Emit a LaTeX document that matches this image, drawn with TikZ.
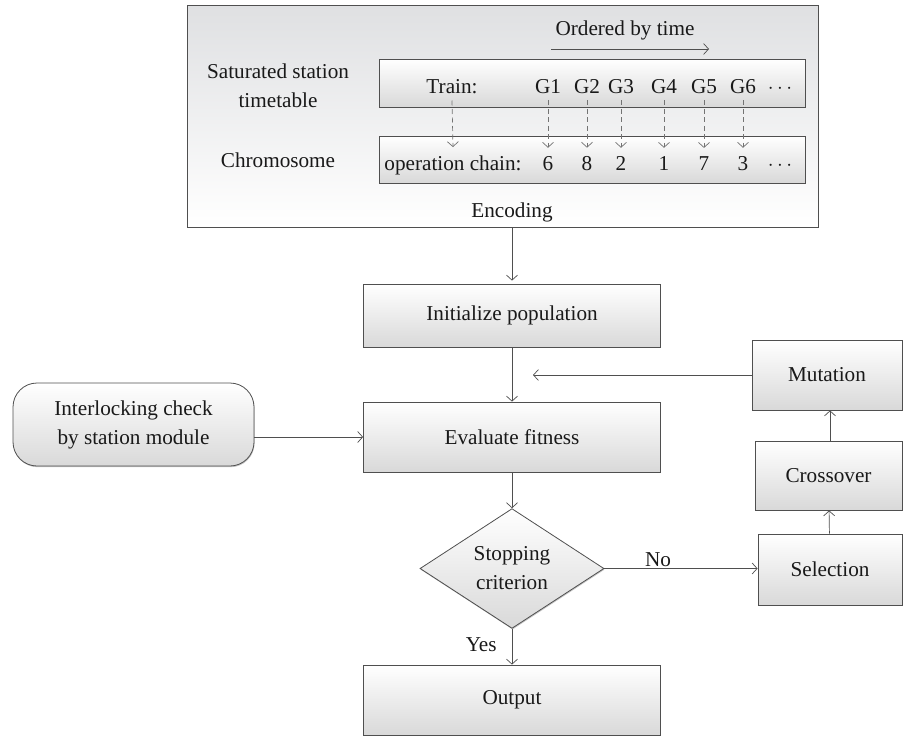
\documentclass[tikz,border=0pt]{standalone}
\usepackage{fontspec}
\setmainfont{Liberation Serif}
\usetikzlibrary{arrows.meta,shapes.geometric,shadows}
\definecolor{edge}{HTML}{4F4F4F}
\definecolor{panel}{HTML}{DFE0E2}
\newcommand\ffont{\fontsize{21.2}{29}\selectfont}
\tikzset{
  box/.style={draw=edge, line width=0.8pt, top color=white, bottom color=black!15,
    font=\ffont, text=black!90, align=center, inner sep=0pt},
  shd/.style={drop shadow={shadow xshift=0.6pt, shadow yshift=-1.2pt, opacity=0.45}},
  lbl/.style={font=\ffont, text=black!90, align=center, inner sep=1pt},
  arr/.style={draw=edge, line width=0.7pt, -{Straight Barb[length=5pt,width=11pt]}},
  darr/.style={arr, draw=black!55, dash pattern=on 5pt off 3.5pt},
}

\begin{document}
\begin{tikzpicture}[x=1pt,y=-1pt]
  \useasboundingbox (0,0) rectangle (904,737);
  % encoding panel
  \node[box, top color=panel, bottom color=white, minimum width=631pt, minimum height=222pt] (enc) at (502.5,116) {};
  \node[lbl] (ord) at (625,30) {Ordered by time};
  \coordinate (o1) at (551,49);
  \coordinate (o2) at (709,49);
  \draw[arr] (o1) -- (o2);
  \node[lbl] (sat) at (278,86) {Saturated station\\timetable};
  \node[lbl] (chr) at (278,160) {Chromosome};
  \node[box, shd, minimum width=426pt, minimum height=48pt] (tt) at (592,83) {};
  \node[box, shd, minimum width=426pt, minimum height=47pt] (ch) at (592,159.5) {};
  \node[lbl, anchor=base] (train) at (452,93) {Train:};
  \node[lbl, anchor=base] (chain) at (453,170) {operation chain:};
  \draw[darr] ([yshift=-6pt]train.south) -- ([yshift=7pt]chain.north);
  \foreach \x/\g/\n [count=\i] in {548/G1/6, 587/G2/8, 621/G3/2, 664/G4/1, 704/G5/7, 743/G6/3}{
    \node[lbl, anchor=base] (g\i) at (\x,93) {\g};
    \node[lbl, anchor=base] (n\i) at (\x,170) {\n};
    \draw[darr] ([yshift=-6pt]g\i.south) -- ([yshift=7pt]n\i.north);
  }
  \node[lbl, anchor=base] (gdots) at (780,93) {$\cdots$};
  \node[lbl, anchor=base] (ndots) at (780,170) {$\cdots$};
  \node[lbl] (encl) at (512,212) {Encoding};

  % genetic algorithm loop
  \node[box, shd, minimum width=297pt, minimum height=63pt] (init) at (512,315.5) {Initialize population};
  \node[box, shd, minimum width=297pt, minimum height=70pt] (eval) at (512,437) {Evaluate fitness};
  \node[box, shd, shape=diamond, minimum width=184pt, minimum height=111pt] (stop) at (512,568.5) {Stopping\\criterion};
  \node[box, shd, minimum width=297pt, minimum height=70pt] (out) at (512,700) {Output};
  \node[box, shd, rounded corners=24pt, minimum width=241pt, minimum height=83pt] (inter) at (133.5,424.5) {Interlocking check\\by station module};
  \node[box, shd, minimum width=150pt, minimum height=70pt] (mut) at (827,375) {Mutation};
  \node[box, shd, minimum width=147pt, minimum height=69pt] (cross) at (828.5,475.5) {Crossover};
  \node[box, shd, minimum width=144pt, minimum height=71pt] (sel) at (830,569.5) {Selection};
  \coordinate (mj) at (533,375);

  \draw[arr] (enc.south -| init.north) -- ([yshift=3pt]init.north);
  \draw[arr] (init) -- (eval);
  \draw[arr] (inter.east |- eval) -- (eval.west);
  \draw[arr] (mut.west) -- (mj);
  \draw[arr] (eval) -- (stop);
  \draw[arr] (stop.east) -- node[lbl, above, pos=0.35] {No} (stop.east -| sel.west);
  \draw[arr] (stop) -- node[lbl, left=14pt, pos=0.45] {Yes} (out);
  \draw[arr] (sel) -- (cross);
  \draw[arr] (cross.north -| sel) -- (mut.south -| sel);
\end{tikzpicture}
\end{document}
